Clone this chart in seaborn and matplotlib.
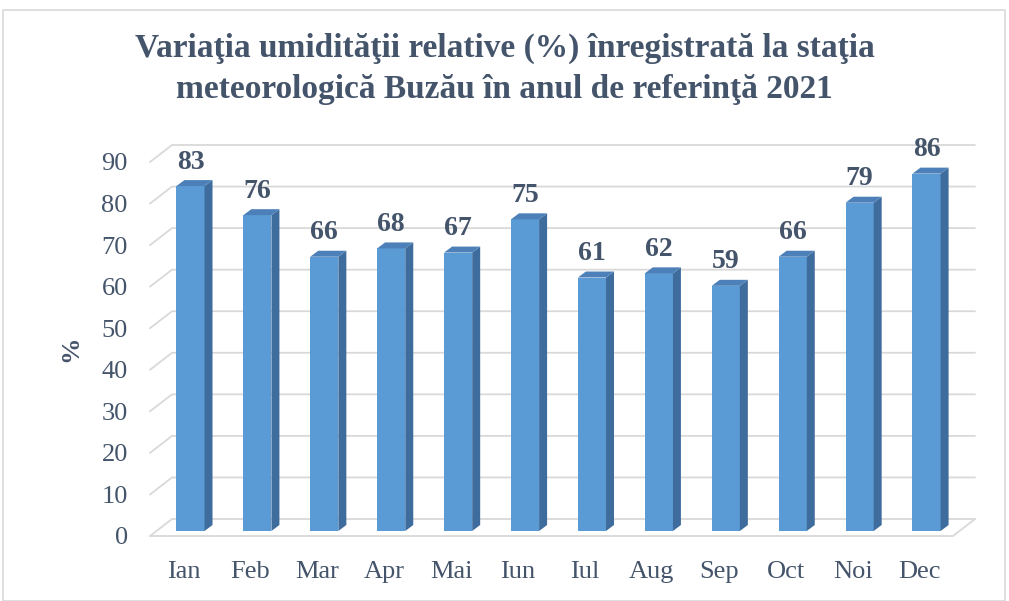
import numpy as np
import pandas as pd
import matplotlib
matplotlib.use('Agg')
import matplotlib.pyplot as plt
import matplotlib.transforms as mtransforms
from matplotlib.patches import Polygon, Rectangle
import seaborn as sns

# --- DATA ---
months = ['Ian', 'Feb', 'Mar', 'Apr', 'Mai', 'Iun', 'Iul', 'Aug', 'Sep', 'Oct', 'Noi', 'Dec']
humidity = [83, 76, 66, 68, 67, 75, 61, 62, 59, 66, 79, 86]
y_ticks = [0, 10, 20, 30, 40, 50, 60, 70, 80, 90]
title = 'Variaţia umidităţii relative (%) înregistrată la staţia\nmeteorologică Buzău în anul de referinţă 2021'

df = pd.DataFrame({'luna': months, 'umiditate': humidity})

# --- STYLE ---
sns.set_style('white')
plt.rcParams['font.family'] = ['Liberation Serif', 'DejaVu Serif']
text_col = '#44546a'
grid_col = '#d9d9d9'
front_col = '#5b9bd5'
side_col = '#3e6c9c'
top_col = '#4d80b8'

fig = plt.figure(figsize=(10.09, 6.01), dpi=100)
ax = fig.add_axes([150 / 1009, 65 / 601, 803 / 1009, 374 / 601])

sns.barplot(data=df, x='luna', y='umiditate', color=front_col, width=0.42,
            saturation=1, ax=ax, zorder=3)
ax.set_xlim(-0.5, 11.5)
ax.set_ylim(0, 90)

# pixel -> data helpers (3D depth effect)
px_x = 803 / 12
px_y = 374 / 90

# back wall gridlines + floor
dx_back = 22 / px_x
dy_back = 17 / px_y
x_right_back = -0.5 + (975 - 150) / px_x
for v in y_ticks:
    ax.plot([-0.5, -0.5 + dx_back, x_right_back], [v, v + dy_back, v + dy_back],
            color=grid_col, lw=1.3, clip_on=False, zorder=1)
ax.plot([-0.5, 11.5, x_right_back], [0, 0, dy_back], color=grid_col, lw=1.3,
        clip_on=False, zorder=1)

# shift bars slightly behind the front plane
shift = mtransforms.ScaledTranslation(7 / 100, 5 / 100, fig.dpi_scale_trans)
side_dx = 8 / px_x
side_dy = 6 / px_y
for bar in ax.patches:
    bar.set_transform(ax.transData + shift)
    bar.set_clip_on(False)
    bar.set_edgecolor('none')
    x0 = bar.get_x()
    w = bar.get_width()
    h = bar.get_height()
    side = Polygon([[x0 + w, 0], [x0 + w + side_dx, side_dy],
                    [x0 + w + side_dx, h + side_dy], [x0 + w, h]],
                   closed=True, facecolor=side_col, edgecolor='none',
                   transform=ax.transData + shift, clip_on=False, zorder=3)
    top = Polygon([[x0, h], [x0 + side_dx, h + side_dy],
                   [x0 + w + side_dx, h + side_dy], [x0 + w, h]],
                  closed=True, facecolor=top_col, edgecolor='none',
                  transform=ax.transData + shift, clip_on=False, zorder=3)
    ax.add_patch(side)
    ax.add_patch(top)
    ax.annotate(f'{int(h)}', (x0 + w / 2, h + side_dy), xytext=(0, 4),
                textcoords='offset points', ha='center', va='bottom',
                fontsize=20, fontweight='bold', color=text_col,
                xycoords=ax.transData + shift, annotation_clip=False)

# axes text
ax.set_yticks(y_ticks)
ax.tick_params(axis='y', length=0, pad=16, labelsize=19, labelcolor=text_col)
ax.tick_params(axis='x', length=0, pad=18, labelsize=19, labelcolor=text_col)
ax.set_xlabel('')
ax.set_ylabel('%', fontsize=19, fontweight='bold', color=text_col, labelpad=14)
sns.despine(ax=ax, left=True, bottom=True)
ax.patch.set_alpha(0)

fig.suptitle(title, x=0.5, y=0.945, fontsize=24, fontweight='bold',
             color=text_col, linespacing=1.4)

# chart border
fig.patches.append(Rectangle((3 / 1009, 0), 1002 / 1009, 591 / 601,
                             transform=fig.transFigure, fill=False,
                             edgecolor='#d9d9d9', lw=1.2))

fig.savefig('out.png', dpi=100)
